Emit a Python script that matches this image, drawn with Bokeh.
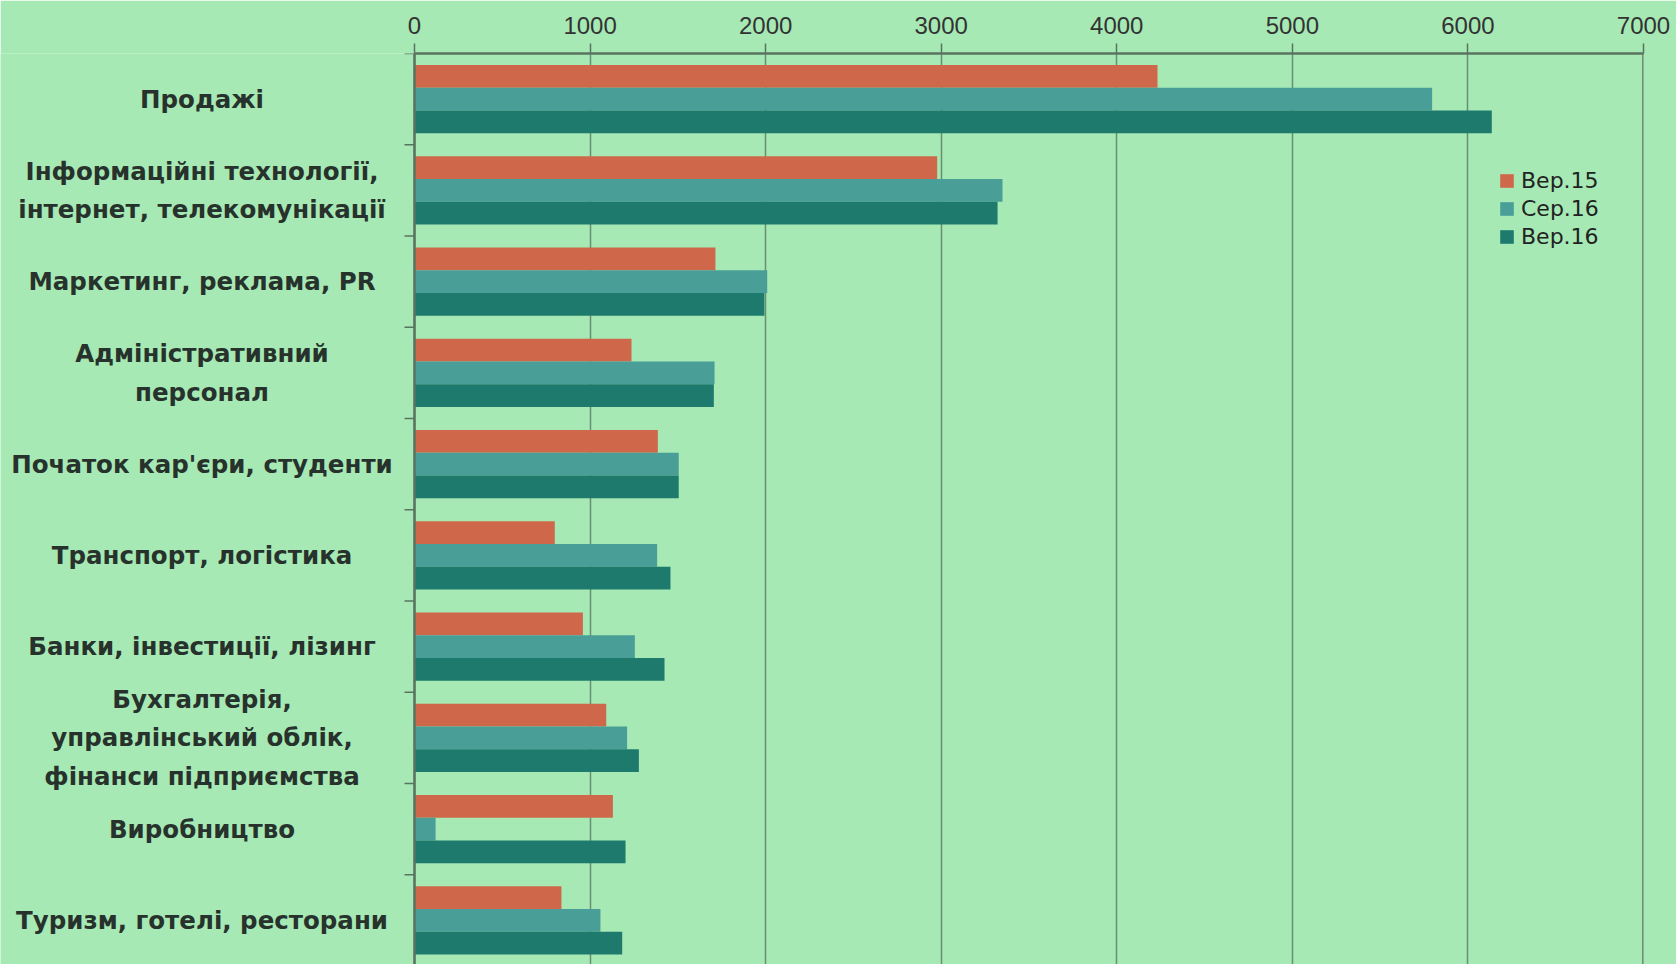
from bokeh.plotting import figure
from bokeh.models import (Range1d, FixedTicker, LinearAxis, ColumnDataSource,
                          Legend, LegendItem)
from bokeh.transform import dodge
from bokeh.core.properties import value
from bokeh.embed import file_html
from bokeh.resources import INLINE

# ---------------- data ----------------
categories = [
    "Продажі",
    "Інформаційні технології,\nінтернет, телекомунікації",
    "Маркетинг, реклама, PR",
    "Адміністративний\nперсонал",
    "Початок кар'єри, студенти",
    "Транспорт, логістика",
    "Банки, інвестиції, лізинг",
    "Бухгалтерія,\nуправлінський облік,\nфінанси підприємства",
    "Виробництво",
    "Туризм, готелі, ресторани",
]
series_names = ["Вер.15", "Сер.16", "Вер.16"]
sep15 = [4232, 2977, 1714, 1236, 1386, 799, 959, 1092, 1130, 837]
aug16 = [5796, 3349, 2009, 1709, 1505, 1382, 1255, 1211, 120, 1059]
sep16 = [6136, 3321, 1993, 1705, 1505, 1458, 1424, 1278, 1202, 1183]
x_ticks = [0, 1000, 2000, 3000, 4000, 5000, 6000, 7000]
x_tick_labels = ["0", "1000", "2000", "3000", "4000", "5000", "6000", "7000"]

colors = ["#CF684A", "#4A9E98", "#1F7A6E"]
bg = "#A6E9B4"
frame_col = "#587360"
grid_col = "#678F72"

n = len(categories)
W, H = 1676, 964
frame_right_px = 1643
zero_px = 414
px_per_unit = (frame_right_px - zero_px) / 7000.0
x_min = -zero_px / px_per_unit

src = ColumnDataSource(dict(
    y=[i + 0.5 for i in range(n)],
    label=categories,
    sep15=sep15, aug16=aug16, sep16=sep16,
))
bounds_src = ColumnDataSource(dict(y=list(range(n + 1))))

top_px = 53
band_px = 91.25
p = figure(width=W, height=H,
           x_range=Range1d(x_min, 7000),
           y_range=Range1d((H - top_px) / band_px, 0),
           x_axis_location="above", y_axis_location=None,
           output_backend="svg", toolbar_location=None,
           min_border_left=0, min_border_right=W - frame_right_px,
           min_border_top=top_px, min_border_bottom=0)
p.background_fill_color = bg
p.border_fill_color = bg
p.outline_line_color = None

# top axis
xa = p.xaxis[0]
xa.ticker = FixedTicker(ticks=x_ticks)
xa.major_label_overrides = {t: l for t, l in zip(x_ticks, x_tick_labels)}
xa.bounds = (0, 7000)
xa.axis_line_color = frame_col
xa.axis_line_width = 2.5
xa.major_tick_out = 10
xa.major_tick_in = 0
xa.major_tick_line_color = frame_col
xa.major_tick_line_width = 1.5
xa.minor_tick_out = 0
xa.minor_tick_in = 0
xa.major_label_standoff = 10
xa.major_label_text_font = "Liberation Sans"
xa.major_label_text_font_size = "24px"
xa.major_label_text_color = "#333333"

for g in p.xgrid:
    g.grid_line_color = grid_col
    g.grid_line_width = 1.5
for g in p.ygrid:
    g.visible = False

# left and right borders of the plot frame
for loc, side in ((0, "left"), (7000, "right")):
    ax = LinearAxis(fixed_location=loc, ticker=FixedTicker(ticks=[]),
                    axis_line_color=frame_col, axis_line_width=2.5,
                    major_tick_out=0, major_tick_in=0,
                    minor_tick_out=0, minor_tick_in=0)
    p.add_layout(ax, side)

# category separator ticks on the left border
tick_len = 10 / px_per_unit
p.segment(x0=-tick_len, x1=0, y0="y", y1="y", source=bounds_src,
          line_color=frame_col, line_width=1.5)

bw = 0.25
r1 = p.hbar(y=dodge("y", -bw, range=p.y_range), left=0, right="sep15",
            height=bw, source=src, fill_color=colors[0], line_color=None)
r2 = p.hbar(y=dodge("y", 0, range=p.y_range), left=0, right="aug16",
            height=bw, source=src, fill_color=colors[1], line_color=None)
r3 = p.hbar(y=dodge("y", bw, range=p.y_range), left=0, right="sep16",
            height=bw, source=src, fill_color=colors[2], line_color=None)

# category labels
label_x = x_min + 201.5 / px_per_unit
p.text(x=label_x, y="y", text="label", source=src,
       text_align="center", text_baseline="middle",
       text_font=value("DejaVu Sans"), text_font_style="bold",
       text_font_size="24.5px", text_color="#28322C", text_line_height=1.33)

legend = Legend(items=[LegendItem(label=s, renderers=[r])
                       for s, r in zip(series_names, [r1, r2, r3])],
                location=(1498, 715))
legend.background_fill_alpha = 0
legend.border_line_color = None
legend.padding = 0
legend.margin = 0
legend.spacing = 3
legend.glyph_width = 17
legend.glyph_height = 17
legend.label_height = 24
legend.label_standoff = 6
legend.label_text_font = "DejaVu Sans"
legend.label_text_font_size = "22px"
legend.label_text_color = "#222222"
p.add_layout(legend)

open("out.html", "w").write(file_html(p, INLINE))
